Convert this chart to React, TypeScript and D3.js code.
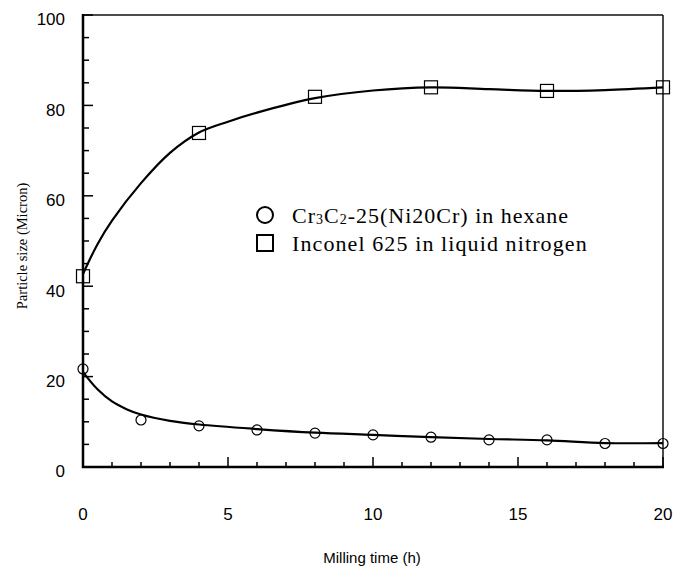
import * as d3 from "d3";

const W = 676;
const H = 569;
const M = { left: 83, right: 12, top: 15, bottom: 102 };

// measured points
const timeSq = [0, 4, 8, 12, 16, 20];
const sizeSq = [42.2, 73.9, 81.9, 84, 83.2, 84];
const timeCirc = [0, 2, 4, 6, 8, 10, 12, 14, 16, 18, 20];
const sizeCirc = [21.7, 10.4, 9.1, 8.2, 7.5, 7.1, 6.6, 6.0, 6.0, 5.2, 5.2];

// fitted curves as drawn in the figure
const fitSqX = [0, 0.5, 1, 2, 3, 4, 5, 6, 8, 10, 12, 14, 16, 18, 20];
const fitSqY = [42.7, 49.3, 54.5, 62.8, 69.5, 74, 76.4, 78.4, 81.6, 83.3, 84, 83.6, 83.2, 83.4, 84];
const fitCircX = [0, 0.5, 1, 1.5, 2, 3, 4, 6, 8, 10, 12, 14, 16, 18, 20];
const fitCircY = [21, 17.2, 14.5, 12.8, 11.6, 10.2, 9.4, 8.4, 7.6, 7.1, 6.6, 6.2, 5.9, 5.3, 5.3];

const xTicks = [0, 5, 10, 15, 20];
const yTicks = [0, 20, 40, 60, 80, 100];

const SANS = "'Liberation Sans', Arial, sans-serif";
const SERIF = "'Liberation Serif', 'Times New Roman', serif";

export default function App() {
  const x = d3.scaleLinear().domain([0, 20]).range([M.left, W - M.right - 1]);
  const y = d3.scaleLinear().domain([0, 100]).range([H - M.bottom, M.top]);
  const x0 = x(0), x1 = x(20), y0 = y(0), y1 = y(100);

  const line = d3
    .line<[number, number]>()
    .x((d) => x(d[0]))
    .y((d) => y(d[1]))
    .curve(d3.curveCatmullRom.alpha(0.5));

  const sqPath = line(fitSqX.map((v, i) => [v, fitSqY[i]] as [number, number])) ?? "";
  const circPath = line(fitCircX.map((v, i) => [v, fitCircY[i]] as [number, number])) ?? "";

  const xMinor = d3.range(0, 21, 1);
  const yMinor = d3.range(0, 101, 5);

  return (
    <svg
      width={W}
      height={H}
      style={{ position: "absolute", left: 0, top: 0, background: "#fff" }}
    >
      {/* frame */}
      <line x1={x0} x2={x1} y1={y1} y2={y1} stroke="#111" strokeWidth={1.5} />
      <line x1={x1} x2={x1} y1={y1} y2={y0} stroke="#111" strokeWidth={1.5} />
      <line x1={x0} x2={x0} y1={y1 - 1} y2={y0 + 1} stroke="#000" strokeWidth={2.5} />
      <line x1={x0 - 1} x2={x1 + 1} y1={y0} y2={y0} stroke="#000" strokeWidth={2.5} />

      {/* ticks */}
      {yMinor.map((v) => (
        <line
          key={"yt" + v}
          x1={x0}
          x2={x0 + (v % 20 === 0 ? 10 : 6)}
          y1={y(v)}
          y2={y(v)}
          stroke="#000"
          strokeWidth={1.5}
        />
      ))}
      {xMinor.map((v) => (
        <line
          key={"xt" + v}
          x1={x(v)}
          x2={x(v)}
          y1={y0}
          y2={y0 - (v % 5 === 0 ? 10 : 5)}
          stroke="#000"
          strokeWidth={1.5}
        />
      ))}

      {/* tick labels */}
      {yTicks.map((v) => (
        <text
          key={"yl" + v}
          x={x0 - 18}
          y={y(v) + 6}
          dominantBaseline="middle"
          textAnchor="end"
          fontFamily={SANS}
          fontSize={17}
          fill="#000"
        >
          {v}
        </text>
      ))}
      {xTicks.map((v) => (
        <text
          key={"xl" + v}
          x={x(v)}
          y={520}
          textAnchor="middle"
          fontFamily={SANS}
          fontSize={17}
          fill="#000"
        >
          {v}
        </text>
      ))}

      {/* axis titles */}
      <text
        x={372}
        y={563}
        textAnchor="middle"
        fontFamily={SANS}
        fontSize={15}
        fill="#000"
      >
        Milling time (h)
      </text>
      <text
        transform="translate(27,246) rotate(-90)"
        textAnchor="middle"
        fontFamily={SERIF}
        fontSize={14.5}
        fill="#000"
      >
        Particle size (Micron)
      </text>

      {/* curves */}
      <path d={sqPath} fill="none" stroke="#000" strokeWidth={2.2} />
      <path d={circPath} fill="none" stroke="#000" strokeWidth={2.2} />

      {/* markers */}
      {timeSq.map((t, i) => (
        <rect
          key={"sq" + i}
          x={x(t) - 6.5}
          y={y(sizeSq[i]) - 6.5}
          width={13}
          height={13}
          fill="none"
          stroke="#000"
          strokeWidth={1.2}
        />
      ))}
      {timeCirc.map((t, i) => (
        <circle
          key={"c" + i}
          cx={x(t)}
          cy={y(sizeCirc[i])}
          r={5}
          fill="none"
          stroke="#000"
          strokeWidth={1.2}
        />
      ))}

      {/* legend */}
      <circle cx={265} cy={215} r={8} fill="none" stroke="#000" strokeWidth={2} />
      <rect x={257} y={235} width={16} height={16} fill="none" stroke="#000" strokeWidth={2} />
      <text x={292} y={223} fontFamily={SERIF} fontSize={22} letterSpacing={1} fill="#000">
        Cr<tspan fontSize={14} dy={1}>3</tspan>
        <tspan dy={-1}>C</tspan>
        <tspan fontSize={14} dy={1}>2</tspan>
        <tspan dy={-1}>-25(Ni20Cr) in hexane</tspan>
      </text>
      <text x={292} y={251} fontFamily={SERIF} fontSize={22} letterSpacing={1.1} fill="#000">
        Inconel 625 in liquid nitrogen
      </text>
    </svg>
  );
}
